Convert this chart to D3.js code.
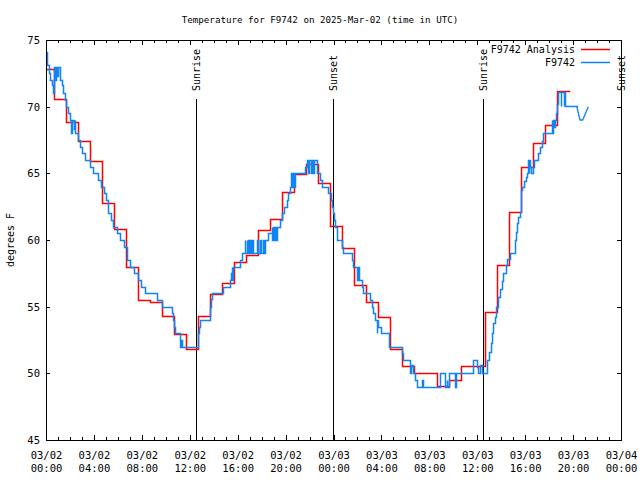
<!DOCTYPE html>
<html><head><meta charset="utf-8">
<script src="https://cdn.jsdelivr.net/npm/d3@7"></script>
<style>body{margin:0;background:#fff}</style>
</head><body><svg id="c" width="640" height="480"></svg>
<script>
const titleText = "Temperature for F9742 on 2025-Mar-02 (time in UTC)";
const yLabelText = "degrees F";
const seriesNames = ["F9742 Analysis", "F9742"];
const startUTC = Date.UTC(2025, 2, 2, 0, 0);
const endUTC = Date.UTC(2025, 2, 4, 0, 0);
const yTicks = [45, 50, 55, 60, 65, 70, 75];

// Analysis (hourly, step) : change times in hours from 03/02 00:00 UTC
const analysisHours = [-0.32,0.68,1.68,2.68,3.68,4.68,5.68,6.68,7.68,8.68,9.68,10.68,11.68,12.68,13.68,14.68,15.68,16.68,17.68,18.68,19.68,20.68,21.68,22.68,23.68,24.68,25.68,26.68,27.68,28.68,29.68,30.68,31.68,32.68,33.68,34.68,35.68,36.68,37.68,38.68,39.68,40.68,41.68,42.68,43.68];
const analysisTemps = [72.8,70.55,68.85,67.4,65.9,62.8,60.8,58.0,55.5,55.35,54.3,52.95,51.8,54.33,55.95,56.75,58.33,58.9,60.73,61.55,63.57,64.95,65.67,64.25,61.05,59.37,56.6,55.33,54.2,51.83,50.58,50.0,50.0,49.05,49.5,50.58,50.58,54.6,58.1,62.13,65.5,67.25,68.63,71.18,71.18];

// Observations (step)
const obsHours = [0.00,0.12,0.25,0.35,0.50,0.60,0.68,0.74,0.80,0.95,1.02,1.17,1.30,1.40,1.55,1.68,1.86,2.00,2.12,2.18,2.30,2.38,2.45,2.70,2.84,3.00,3.26,3.67,3.95,4.35,4.55,4.84,5.00,5.15,5.40,5.60,5.90,6.20,6.50,6.75,7.05,7.35,7.65,7.95,8.30,9.29,9.66,10.49,10.57,10.65,10.77,11.19,11.24,11.33,12.72,12.79,12.86,13.69,13.76,13.83,14.75,15.35,15.44,15.50,15.54,15.60,16.20,16.34,16.61,16.65,16.75,16.79,16.89,16.93,17.03,17.10,17.17,17.24,17.64,17.70,17.87,17.93,18.14,18.20,18.28,18.56,18.84,18.90,18.98,19.05,19.12,19.20,19.30,19.53,19.68,19.85,20.09,20.20,20.37,20.48,20.55,20.65,20.70,20.79,21.62,21.76,21.85,21.95,22.10,22.20,22.30,22.40,22.60,22.87,23.01,23.57,23.75,23.85,23.95,24.04,24.10,24.27,24.32,24.68,24.77,25.52,25.60,25.99,26.05,26.16,26.35,26.49,27.05,27.19,27.32,27.46,27.61,27.67,27.74,27.94,28.66,29.69,29.83,30.39,30.45,30.66,30.80,30.94,31.36,31.45,32.89,33.31,33.45,33.50,33.67,34.14,34.22,35.67,35.95,36.09,36.23,36.43,36.84,37.01,37.12,37.23,37.34,37.48,37.57,37.76,37.90,38.04,38.18,38.37,38.50,38.73,39.15,39.22,39.29,39.43,39.57,39.62,39.65,39.75,39.90,40.04,40.13,40.21,40.30,40.35,40.40,40.45,40.68,40.77,41.10,41.24,41.38,41.46,42.21,42.26,42.35,42.41,42.52,42.58,42.69,42.77,42.95,43.00,43.20,43.25,43.33,44.30];
const obsTemps = [74.1,73.1,72.5,72.0,71.6,71.0,73.0,72.0,73.0,72.3,73.0,72.0,71.6,71.0,70.5,70.0,69.5,69.0,68.0,69.0,68.3,69.0,68.0,67.5,67.0,66.5,66.0,65.5,65.0,64.5,64.0,63.5,63.0,62.0,61.5,61.0,60.5,60.0,59.5,58.5,58.0,57.5,57.0,56.5,56.0,55.5,55.0,54.5,54.0,53.5,53.0,52.0,52.5,52.0,53.0,53.5,54.0,55.0,55.6,56.0,56.5,57.0,57.5,58.0,57.0,58.0,58.5,59.0,60.0,59.0,60.0,59.0,60.0,59.0,60.0,59.0,60.0,59.0,60.0,59.0,60.0,59.0,60.0,59.0,60.0,60.5,61.0,60.0,61.0,60.0,61.0,60.0,61.0,61.5,62.0,62.5,63.0,63.5,64.0,65.0,64.0,65.0,64.0,65.0,65.5,66.0,65.0,66.0,65.0,66.0,65.0,66.0,65.0,64.5,64.0,63.5,63.0,62.5,62.0,61.5,61.0,60.5,60.0,59.5,59.0,58.5,58.0,57.0,58.0,57.0,56.5,56.0,55.5,55.0,54.5,54.0,53.0,54.0,53.5,53.0,52.0,51.5,51.0,50.0,50.6,50.0,49.5,49.0,49.5,49.0,50.0,49.0,49.5,49.0,50.0,49.0,50.0,51.0,50.5,50.0,50.6,50.0,51.0,51.6,52.25,53.0,53.75,54.25,55.0,55.75,56.3,56.9,57.5,58.1,58.6,59.0,60.0,60.6,61.25,61.75,62.1,62.9,63.75,64.0,64.4,64.75,65.0,66.0,65.0,66.0,65.5,65.0,65.5,66.0,66.5,67.0,67.4,68.0,69.0,68.0,69.0,68.5,69.0,69.5,70.2,71.1,70.05,71.1,70.05,71.1,70.05,70.05];
// Last observations (plain line)
const tailHours = [44.30,44.58,44.80,45.27];
const tailTemps = [70.05,69.0,69.0,70.0];

const sunLabels = ["Sunrise", "Sunset", "Sunrise", "Sunset"];
const sunHours = [12.52, 23.98, 36.51, 47.97];

const toDate = h => new Date(startUTC + h * 3600000);

const svg = d3.select("#c");
const L = 46, R = 621, T = 40, B = 440;
const x = d3.scaleUtc().domain([new Date(startUTC), new Date(endUTC)]).range([L, R]);
const y = d3.scaleLinear().domain([45, 75]).range([B, T]);

svg.append("rect").attr("width", 640).attr("height", 480).attr("fill", "#fff");

const mono = "'DejaVu Sans Mono', 'Liberation Mono', monospace";

// title
svg.append("text").attr("x", 320).attr("y", 23).attr("text-anchor", "middle")
  .attr("font-family", mono).attr("font-size", 9.2).text(titleText);

// y label
svg.append("text").attr("transform", "translate(14,240) rotate(-90)").attr("text-anchor", "middle")
  .attr("font-family", mono).attr("font-size", 10).text(yLabelText);

// axes
const fmtD = d3.utcFormat("%m/%d"), fmtT = d3.utcFormat("%H:%M");
const gx = svg.append("g").attr("transform", `translate(0,${B})`)
  .call(d3.axisBottom(x).ticks(d3.utcHour.every(4)).tickSizeInner(-5).tickSizeOuter(0).tickFormat(d => fmtD(d)));
gx.selectAll(".tick text").each(function (d) {
  const t = d3.select(this);
  t.text(null).attr("y", null).attr("dy", null);
  t.append("tspan").attr("x", 0).attr("y", 19).text(fmtD(d));
  t.append("tspan").attr("x", 0).attr("y", 32).text(fmtT(d));
});
const gxm = svg.append("g").attr("transform", `translate(0,${B})`)
  .call(d3.axisBottom(x).ticks(d3.utcHour.every(1)).tickSizeInner(-3).tickSizeOuter(0).tickFormat(""));
const gxt = svg.append("g").attr("transform", `translate(0,${T})`)
  .call(d3.axisTop(x).ticks(d3.utcHour.every(4)).tickSizeInner(-5).tickSizeOuter(0).tickFormat(""));
const gxtm = svg.append("g").attr("transform", `translate(0,${T})`)
  .call(d3.axisTop(x).ticks(d3.utcHour.every(1)).tickSizeInner(-3).tickSizeOuter(0).tickFormat(""));
const gy = svg.append("g").attr("transform", `translate(${L},0)`)
  .call(d3.axisLeft(y).tickValues(yTicks).tickSizeInner(-4).tickSizeOuter(0).tickPadding(6).tickFormat(d3.format("d")));
const gyr = svg.append("g").attr("transform", `translate(${R},0)`)
  .call(d3.axisRight(y).tickValues(yTicks).tickSizeInner(-4).tickSizeOuter(0).tickFormat(""));
[gx, gxm, gxt, gxtm, gy, gyr].forEach(g => {
  g.attr("font-family", mono).attr("font-size", 10.5);
  g.select(".domain").remove();
  g.selectAll(".tick line").attr("stroke", "#000").attr("shape-rendering", "crispEdges");
  g.selectAll(".tick text").attr("fill", "#000");
});

// sunrise / sunset
sunHours.forEach((h, i) => {
  const xp = Math.round(x(toDate(h))) + 0.5;
  svg.append("line").attr("x1", xp).attr("x2", xp).attr("y1", 99).attr("y2", B)
    .attr("stroke", "#000").attr("stroke-width", 1).attr("shape-rendering", "crispEdges");
  svg.append("text").attr("transform", `translate(${xp + 3},91) rotate(-90)`)
    .attr("font-family", mono).attr("font-size", 10).text(sunLabels[i]);
});

// clip
svg.append("clipPath").attr("id", "clip").append("rect").attr("x", L).attr("y", T).attr("width", R - L).attr("height", B - T);
const plot = svg.append("g").attr("clip-path", "url(#clip)");

const snap = v => Math.round(v) + 0.5;
const stepLine = d3.line().x(d => snap(x(toDate(d[0])))).y(d => snap(y(d[1]))).curve(d3.curveStepAfter);
const plainLine = d3.line().x(d => x(toDate(d[0]))).y(d => y(d[1]));

const analysis = analysisHours.map((h, i) => [h, analysisTemps[i]]);
const obs = obsHours.map((h, i) => [h, obsTemps[i]]);
const tail = tailHours.map((h, i) => [h, tailTemps[i]]);

const red = "#ff0000", blue = "#0f84f5";
plot.append("path").attr("d", stepLine(analysis)).attr("fill", "none").attr("stroke", red)
  .attr("stroke-width", 1.5).attr("stroke-linecap", "square");
plot.append("path").attr("d", stepLine(obs)).attr("fill", "none").attr("stroke", blue)
  .attr("stroke-width", 1.5).attr("stroke-linecap", "square");
plot.append("path").attr("d", plainLine(tail)).attr("fill", "none").attr("stroke", blue).attr("stroke-width", 1.3);

// border
svg.append("rect").attr("x", L + 0.5).attr("y", T + 0.5).attr("width", R - L).attr("height", B - T)
  .attr("fill", "none").attr("stroke", "#000").attr("stroke-width", 1).attr("shape-rendering", "crispEdges");

// legend
const legY = [49, 62];
[red, blue].forEach((c, i) => {
  svg.append("text").attr("x", 575).attr("y", legY[i] + 4.3).attr("text-anchor", "end")
    .attr("font-family", mono).attr("font-size", 10).text(seriesNames[i]);
  svg.append("line").attr("x1", 581).attr("x2", 610).attr("y1", legY[i] + 0.5).attr("y2", legY[i] + 0.5)
    .attr("stroke", c).attr("stroke-width", 1.5);
});
</script></body></html>
